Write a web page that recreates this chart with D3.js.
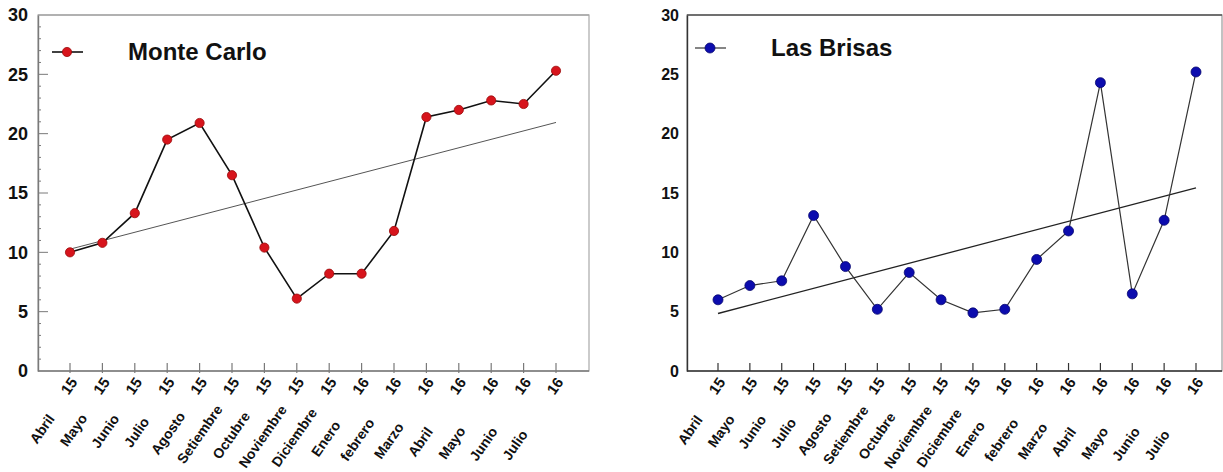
<!DOCTYPE html>
<html>
<head>
<meta charset="utf-8">
<script src="https://cdn.jsdelivr.net/npm/d3@7"></script>
<style>
  body { margin: 0; background: #fff; }
  svg { display: block; font-family: "Liberation Sans", Arial, sans-serif; }
</style>
</head>
<body>
<script>
const width = 1223;
const height = 472;

// data
const months = ["Abril", "Mayo", "Junio", "Julio", "Agosto", "Setiembre", "Octubre", "Noviembre",
    "Diciembre", "Enero", "febrero", "Marzo", "Abril", "Mayo", "Junio", "Julio"];
const years = ["15", "15", "15", "15", "15", "15", "15", "15", "15", "16", "16", "16", "16", "16", "16", "16"];
const monteCarlo = [10.0, 10.8, 13.3, 19.5, 20.9, 16.5, 10.4, 6.1, 8.2, 8.2, 11.8, 21.4, 22.0, 22.8, 22.5, 25.3];
const lasBrisas = [6.0, 7.2, 7.6, 13.1, 8.8, 5.2, 8.3, 6.0, 4.9, 5.2, 9.4, 11.8, 24.3, 6.5, 12.7, 25.2];
const yTicks = [0, 5, 10, 15, 20, 25, 30];
const yMinor = [1, 2, 3, 4, 6, 7, 8, 9, 11, 12, 13, 14, 16, 17, 18, 19, 21, 22, 23, 24, 26, 27, 28, 29];

// unique category keys
const categories = months.map((m, i) => m + " " + years[i]);

var svg;

// least squares fit over the category index
function trend(values) {
    var n = values.length;
    var mx = (n - 1) / 2;
    var my = d3.mean(values);
    var sxy = 0, sxx = 0;
    values.forEach((v, i) => { sxy += (i - mx) * (v - my); sxx += (i - mx) * (i - mx); });
    var slope = sxy / sxx;
    return [{ i: 0, v: my - slope * mx }, { i: n - 1, v: my + slope * (n - 1 - mx) }];
}

function drawPanel(p) {
    var g = svg.append("g");

    var x = d3.scalePoint().domain(categories).range([p.first, p.last]);
    var y = d3.scaleLinear().domain([0, 30]).range([p.bottom, p.top]);
    // month names sit in a slightly drifting row under the year labels
    var mx = d3.scalePoint().domain(categories).range(p.monthX);
    var my = d3.scalePoint().domain(categories).range(p.monthY);

    // frame
    g.append("rect")
        .attr("x", p.left).attr("y", p.top)
        .attr("width", p.right - p.left).attr("height", p.bottom - p.top)
        .attr("fill", "none").attr("stroke", p.frame).attr("stroke-width", 1.2);
    g.append("line")
        .attr("x1", p.left).attr("x2", p.right).attr("y1", p.top).attr("y2", p.top)
        .attr("stroke", p.topColor).attr("stroke-width", 1.4);

    // y axis
    var yAxis = d3.axisLeft(y).tickValues(yTicks).tickSize(0).tickPadding(p.yPad);
    var ya = g.append("g").attr("transform", "translate(" + p.left + ",0)").call(yAxis);
    ya.select(".domain").attr("stroke", p.axis).attr("stroke-width", 1.4);
    ya.selectAll("text")
        .style("font-size", p.yFont + "px").style("font-weight", "bold").attr("fill", "#111");
    if (p.yTickLen > 0) {
        g.selectAll(".ymaj").data(yTicks.slice(1, -1)).enter().append("line")
            .attr("x1", p.left).attr("x2", p.left + p.yTickLen)
            .attr("y1", d => y(d)).attr("y2", d => y(d))
            .attr("stroke", p.axis).attr("stroke-width", 1);
        g.selectAll(".ymin").data(yMinor).enter().append("line")
            .attr("x1", p.left).attr("x2", p.left + 3)
            .attr("y1", d => y(d)).attr("y2", d => y(d))
            .attr("stroke", p.axis).attr("stroke-width", 1);
    }

    // x axis
    var xAxis = d3.axisBottom(x).tickSize(0).tickFormat("");
    var xa = g.append("g").attr("transform", "translate(0," + p.bottom + ")").call(xAxis);
    xa.select(".domain").attr("d", "M" + p.left + ",0H" + p.right)
        .attr("stroke", p.axis).attr("stroke-width", 1.4);
    g.selectAll(".xtick").data(categories).enter().append("line")
        .attr("x1", d => x(d)).attr("x2", d => x(d))
        .attr("y1", p.bottom - 8).attr("y2", p.bottom + p.xTickOut)
        .attr("stroke", p.axis).attr("stroke-width", 1.2);

    g.selectAll(".yr").data(categories).enter().append("text")
        .attr("transform", (d, i) => "translate(" + (x(d) - 1) + "," + 386 + ") rotate(-55)")
        .attr("text-anchor", "middle").attr("dy", "0.35em")
        .style("font-size", "15px").style("font-weight", "bold").attr("fill", "#111")
        .text((d, i) => years[i]);
    g.selectAll(".mo").data(categories).enter().append("text")
        .attr("transform", d => "translate(" + mx(d) + "," + my(d) + ") rotate(-55)")
        .attr("text-anchor", "middle").attr("dy", "0.35em")
        .style("font-size", "14px").style("font-weight", "bold").attr("fill", "#111")
        .text((d, i) => months[i]);

    // trend line
    var t = trend(p.values);
    g.append("line")
        .attr("x1", x(categories[t[0].i])).attr("y1", y(t[0].v))
        .attr("x2", x(categories[t[1].i])).attr("y2", y(t[1].v))
        .attr("stroke", p.trendColor).attr("stroke-width", p.trendWidth);

    // series
    var line = d3.line().x((d, i) => x(categories[i])).y(d => y(d));
    g.append("path").datum(p.values).attr("d", line)
        .attr("fill", "none").attr("stroke", p.lineColor).attr("stroke-width", p.lineWidth);
    g.selectAll(".dot").data(p.values).enter().append("circle")
        .attr("cx", (d, i) => x(categories[i])).attr("cy", d => y(d))
        .attr("r", p.r).attr("fill", p.fill).attr("stroke", p.stroke).attr("stroke-width", 0.8);

    // legend
    g.append("line")
        .attr("x1", p.legX).attr("x2", p.legX + 31).attr("y1", p.legY).attr("y2", p.legY)
        .attr("stroke", p.lineColor).attr("stroke-width", p.lineWidth);
    g.append("circle")
        .attr("cx", p.legX + 15).attr("cy", p.legY).attr("r", p.r)
        .attr("fill", p.fill).attr("stroke", p.stroke).attr("stroke-width", 0.8);
    g.append("text")
        .attr("x", p.legTextX).attr("y", p.legY + 8)
        .style("font-size", "24px").style("font-weight", "bold").attr("fill", "#111")
        .text(p.name);
}

document.addEventListener("DOMContentLoaded", function () {
    svg = d3.select("body").append("svg").attr("width", width).attr("height", height);

    drawPanel({
        name: "Monte Carlo", values: monteCarlo,
        left: 38, right: 589, top: 15, bottom: 371, first: 70, last: 556,
        monthX: [42, 515], monthY: [429, 445],
        frame: "#a8a8a8", topColor: "#a8a8a8", axis: "#7a7a7a",
        yFont: 18, yPad: 10, yTickLen: 10, xTickOut: 2,
        lineColor: "#111", lineWidth: 1.6, trendColor: "#555", trendWidth: 1,
        fill: "#d7141c", stroke: "#9a0a0a", r: 4.6,
        legX: 52, legY: 52, legTextX: 128
    });

    drawPanel({
        name: "Las Brisas", values: lasBrisas,
        left: 687, right: 1222, top: 15, bottom: 371, first: 718, last: 1196,
        monthX: [690, 1157], monthY: [430, 445],
        frame: "#9a9a9a", topColor: "#555", axis: "#333",
        yFont: 16, yPad: 8, yTickLen: 0, xTickOut: 0,
        lineColor: "#333", lineWidth: 1.2, trendColor: "#222", trendWidth: 1.3,
        fill: "#0c0cae", stroke: "#06066e", r: 5,
        legX: 695, legY: 48, legTextX: 771
    });
});
</script>
</body>
</html>
